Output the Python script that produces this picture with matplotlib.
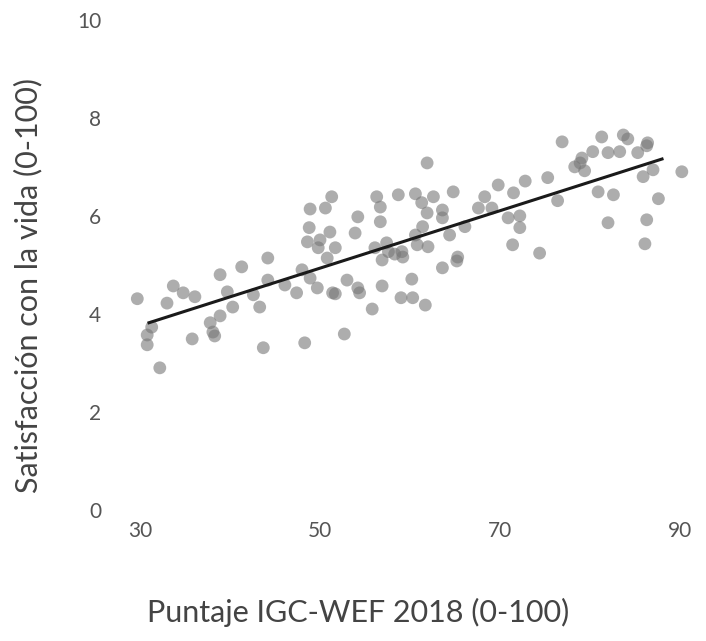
import matplotlib
matplotlib.use("Agg")
import matplotlib.pyplot as plt

# Puntaje IGC-WEF 2018 (eje x) y satisfacción con la vida (eje y)
igc = [
    29.7, 33.0, 33.7, 34.8, 36.1, 38.9, 41.3, 44.2, 39.7, 40.3, 38.9, 37.8,
    38.1, 38.3, 35.8, 30.8, 30.8, 31.3, 32.2, 43.3, 43.7, 48.3, 44.2, 46.1,
    47.4, 48.0, 48.9, 49.7, 42.6, 48.9, 48.8, 48.6, 49.8,
    61.9, 51.3, 50.6, 56.3, 56.7, 58.7, 60.6, 61.3, 62.6, 64.8, 54.2, 56.7,
    61.9, 63.6, 63.6, 51.1, 53.9, 50.0, 51.7, 69.8, 68.3, 67.6, 69.1, 70.9,
    66.1, 64.4, 60.6, 61.4, 62.0, 60.8, 59.1, 57.6, 56.1, 71.4, 65.3, 50.8,
    56.9, 59.2, 63.6, 65.2, 53.0, 54.2, 54.4, 51.4, 51.7, 56.9, 60.2, 59.0,
    60.3, 61.7, 55.8, 52.7, 58.3, 57.4,
    76.9, 81.3, 83.7, 84.2, 86.4, 86.3, 80.3, 82.0, 83.3, 85.3, 79.1, 78.3,
    79.4, 78.9, 85.9, 87.0, 90.2, 75.3, 72.8, 71.5, 80.9, 82.6, 76.4, 87.6,
    72.2, 72.2, 82.0, 86.3, 74.4, 86.1,
]
satisfaccion = [
    4.31, 4.22, 4.57, 4.43, 4.35, 4.80, 4.96, 5.14, 4.45, 4.14, 3.96, 3.82,
    3.63, 3.55, 3.49, 3.57, 3.37, 3.73, 2.90, 4.14, 3.31, 3.41, 4.69, 4.59,
    4.43, 4.90, 4.73, 4.53, 4.39, 6.14, 5.76, 5.47, 5.35,
    7.08, 6.39, 6.16, 6.39, 6.18, 6.43, 6.45, 6.27, 6.39, 6.49, 5.98, 5.88,
    6.06, 6.12, 5.96, 5.67, 5.65, 5.51, 5.35, 6.63, 6.39, 6.16, 6.16, 5.96,
    5.78, 5.61, 5.61, 5.78, 5.37, 5.41, 5.27, 5.27, 5.35, 5.41, 5.16, 5.14,
    5.10, 5.16, 4.94, 5.08, 4.69, 4.53, 4.43, 4.43, 4.41, 4.57, 4.71, 4.33,
    4.33, 4.18, 4.10, 3.59, 5.22, 5.45,
    7.51, 7.61, 7.65, 7.57, 7.49, 7.43, 7.31, 7.29, 7.31, 7.29, 7.18, 7.00,
    6.92, 7.08, 6.80, 6.94, 6.90, 6.78, 6.71, 6.47, 6.49, 6.43, 6.31, 6.35,
    6.00, 5.76, 5.86, 5.92, 5.24, 5.43,
]

# recta de tendencia (extremos)
tend_x = [31.0, 88.0]
tend_y = [3.82, 7.16]

x_ticks = [30, 50, 70, 90]
y_ticks = [0, 2, 4, 6, 8, 10]

fig = plt.figure(figsize=(7.06, 6.41), dpi=100)
ax = fig.add_axes([0.1728, 0.2044, 0.8159, 0.780])

ax.scatter(igc, satisfaccion, s=85, color="#777777", alpha=0.6,
           edgecolors="none", zorder=2)
ax.plot(tend_x, tend_y, color="#1a1a1a", linewidth=2.2, zorder=3)

ax.set_xlim(28, 92)
ax.set_ylim(0, 10.2)
ax.set_xticks(x_ticks)
ax.set_yticks(y_ticks)
ax.tick_params(length=0, labelsize=15, labelcolor="#555555")
ax.tick_params(axis="x", pad=8)
ax.tick_params(axis="y", pad=15)
for lab in ax.get_xticklabels() + ax.get_yticklabels():
    lab.set_family("Lato")
for s in ax.spines.values():
    s.set_visible(False)

fig.text(0.507, 0.044, "Puntaje IGC-WEF 2018 (0-100)", ha="center",
         va="center", fontsize=22, color="#444444", family="Lato")
fig.text(0.040, 0.555, "Satisfacción con la vida (0-100)", ha="center",
         va="center", rotation=90, fontsize=22, color="#444444",
         family="Lato")

fig.savefig("out.png", dpi=100)
